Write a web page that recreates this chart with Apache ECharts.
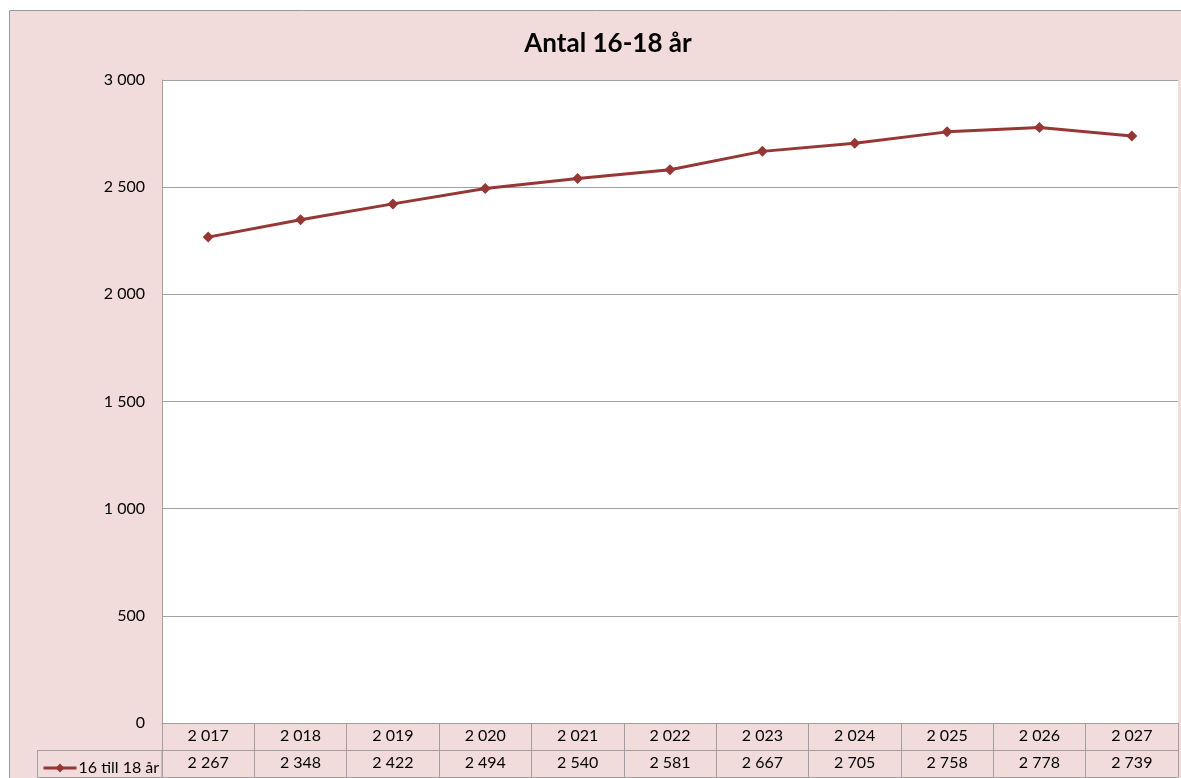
<!DOCTYPE html>
<html><head><meta charset="utf-8">
<script src="https://cdn.jsdelivr.net/npm/echarts@6/dist/echarts.min.js"></script>
<style>html,body{margin:0;padding:0;background:#fff}#c{width:1181px;height:778px}</style>
</head><body><div id="c"></div>
<script>
const titleText = 'Antal 16-18 år';
const seriesName = '16 till 18 år';
const categories = ['2 017','2 018','2 019','2 020','2 021','2 022','2 023','2 024','2 025','2 026','2 027'];
const values = [2267, 2348, 2422, 2494, 2540, 2581, 2667, 2705, 2758, 2778, 2739];
const yTicks = [0, 500, 1000, 1500, 2000, 2500, 3000];

const fmt = v => String(v).replace(/\B(?=(\d{3})+(?!\d))/g, ' ');
const FONT = 'Lato';
const GRAY = '#a0a0a0';
const chart = echarts.init(document.getElementById('c'));
chart.setOption({
  backgroundColor: '#ffffff',
  animation: false,
  textStyle: { fontFamily: FONT },
  title: {
    text: titleText, left: 603, top: 26, textAlign: 'center',
    textStyle: { fontFamily: FONT, fontWeight: 'bold', fontSize: 26, color: '#000' }
  },
  graphic: [
    { type: 'rect', z: -10, shape: { x: 9.5, y: 10.5, width: 1200, height: 800 },
      style: { fill: '#f2dcdb', stroke: '#999', lineWidth: 1 } },
    { type: 'rect', z: 10, shape: { x: 37.5, y: 750.5, width: 124.5, height: 27 },
      style: { fill: 'none', stroke: GRAY, lineWidth: 1 } }
  ],
  legend: {
    left: 37, top: 755, itemWidth: 33, itemHeight: 11, itemGap: 4,
    lineStyle: { width: 3 },
    textStyle: { fontFamily: FONT, fontSize: 16, color: '#000', padding: [0, 0, 0, -3] },
    data: [seriesName]
  },
  grid: { left: 162, right: 3, top: 80, bottom: 55, show: true, backgroundColor: '#ffffff', borderWidth: 0 },
  xAxis: [
    { type: 'category', data: categories, boundaryGap: true, position: 'bottom',
      axisLine: { lineStyle: { color: GRAY } },
      axisTick: { show: true, length: 27, inside: false, lineStyle: { color: GRAY } },
      axisLabel: { margin: 5, fontSize: 16, color: '#000', fontFamily: FONT, interval: 0 } },
    { type: 'category', data: categories, boundaryGap: true, position: 'bottom', offset: 27,
      axisLine: { lineStyle: { color: GRAY } },
      axisTick: { show: true, length: 27, lineStyle: { color: GRAY } },
      axisLabel: { margin: 5, fontSize: 16, color: '#000', fontFamily: FONT, interval: 0,
        formatter: (v, i) => fmt(values[i]) } },
    { type: 'category', data: categories, boundaryGap: true, position: 'bottom', offset: 54,
      axisLine: { lineStyle: { color: GRAY } },
      axisTick: { show: false }, axisLabel: { show: false } }
  ],
  yAxis: {
    type: 'value', min: 0, max: 3000, interval: 500,
    axisLine: { show: true, lineStyle: { color: GRAY } },
    axisTick: { show: false },
    splitLine: { lineStyle: { color: GRAY } },
    axisLabel: { margin: 17, fontSize: 16, color: '#000', fontFamily: FONT,
      formatter: v => yTicks.includes(v) ? fmt(v) : '' }
  },
  series: [{
    name: seriesName, type: 'line', xAxisIndex: 0, data: values,
    symbol: 'diamond', symbolSize: 11,
    lineStyle: { color: '#953735', width: 3 },
    itemStyle: { color: '#953735' }
  }]
});
</script></body></html>
